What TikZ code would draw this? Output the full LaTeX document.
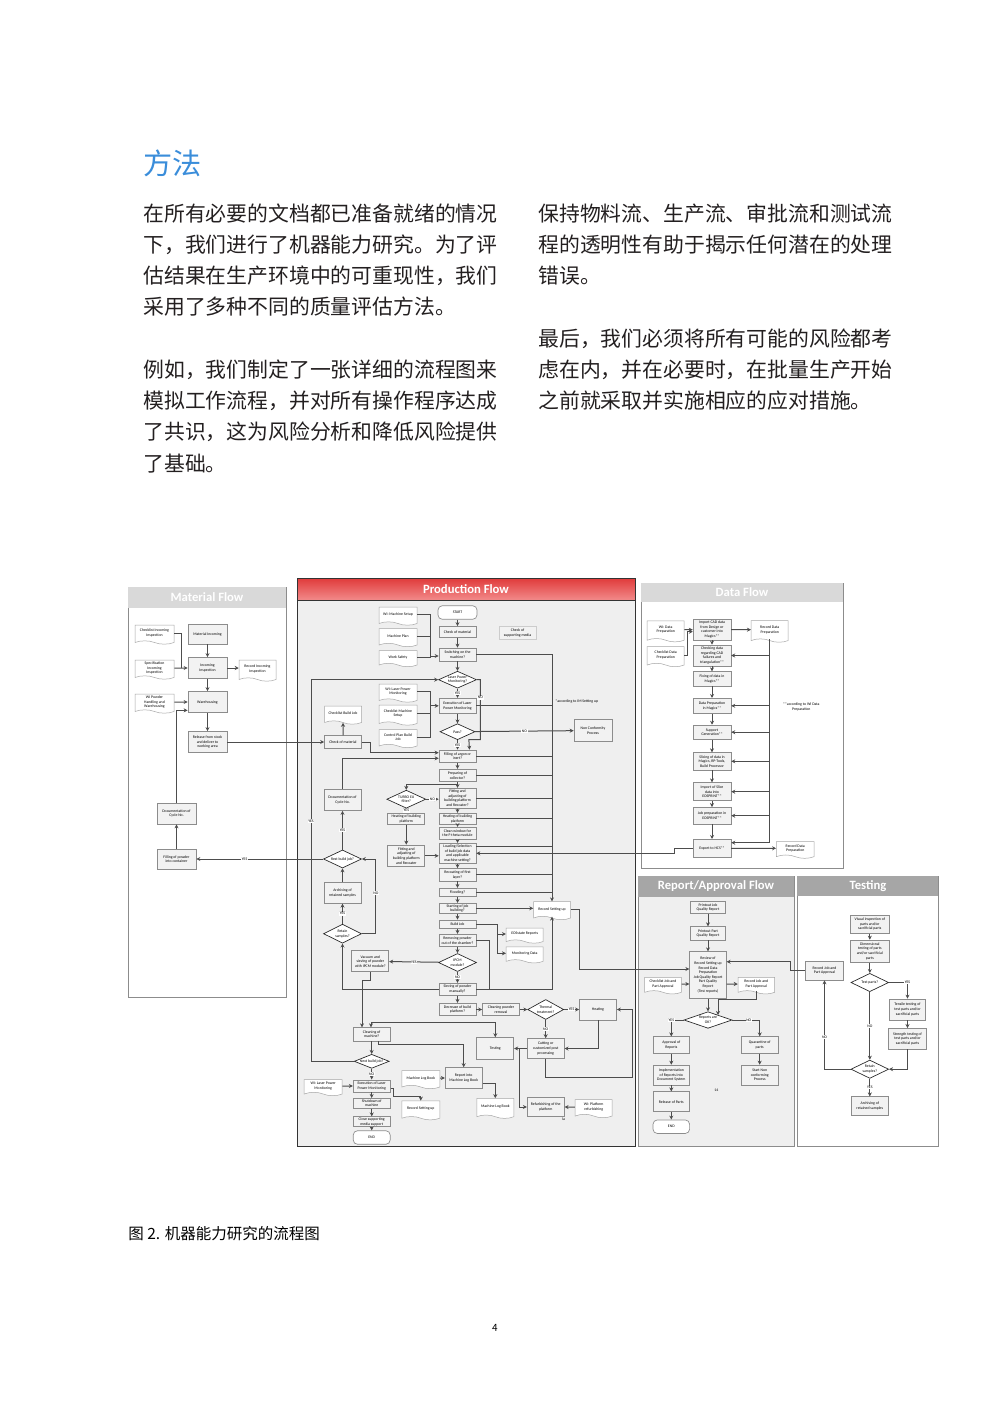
\documentclass[tikz,border=0pt]{standalone}
\usepackage{fontspec}
\setmainfont{Carlito}
\newfontfamily\cjk{Noto Sans CJK SC}
\usetikzlibrary{arrows.meta, calc, shapes.geometric, shapes.symbols}

\definecolor{boxline}{HTML}{8C8C8C}
\definecolor{boxfill}{HTML}{F2F2F2}
\definecolor{docline}{HTML}{A6A6A6}
\definecolor{flowline}{HTML}{4D4D4D}
\definecolor{prodbg}{HTML}{EFEFEF}
\definecolor{hdlight}{HTML}{D9D9D9}
\definecolor{hddark}{HTML}{A6A6A6}
\definecolor{redtop}{HTML}{E03A3A}
\definecolor{redbot}{HTML}{F28A8A}
\definecolor{titleblue}{HTML}{3A8DDA}
\definecolor{bodytext}{HTML}{231F20}

\newcommand\boxfont{\fontsize{2.3}{2.75}\selectfont}
\newcommand\headfont{\fontsize{7.6}{8}\selectfont\bfseries}

\begin{document}
\begin{tikzpicture}[x=0.6pt, y=-0.6pt, >={Stealth[length=2.4pt, width=2.4pt]},
  sz/.style 2 args={minimum width=#1*0.6pt, minimum height=#2*0.6pt},
  proc/.style={rectangle, draw=boxline, fill=boxfill, line width=0.4pt,
               inner sep=0.3pt, align=center, font=\boxfont, sz={37}{13}},
  doc/.style={tape, tape bend top=none, tape bend bottom=out and in,
              tape bend height=2pt, draw=docline, fill=white, line width=0.3pt,
              inner sep=0.3pt, align=center, font=\boxfont, sz={38}{18}},
  dec/.style n args={3}{diamond, draw=black!85, fill=white, line width=0.4pt,
              inner sep=0pt, sz={#1}{#2},
              label={[font=\boxfont, align=center, inner sep=0pt]center:#3}},
  term/.style={rectangle, rounded corners=2.6pt, draw=boxline, fill=white,
               line width=0.4pt, align=center, font=\boxfont, sz={37}{9}},
  flow/.style={draw=flowline, line width=0.6pt},
  lbl/.style={fill=white, inner sep=0.4pt, font=\boxfont},
  panel/.style={draw=boxline, line width=0.5pt, fill=white},
  hd/.style={text=white, font=\headfont},
  body/.style={anchor=west, inner sep=0pt, text=bodytext,
               font=\cjk\fontsize{12.5}{15}\selectfont}]

\useasboundingbox (0,0) rectangle (993,1404);

% Text above the chart
\node[anchor=west, inner sep=0pt, text=titleblue,
      font=\cjk\fontsize{17.5}{20}\selectfont] (title) at (143,163) {方法};
\foreach \y/\t in {214/在所有必要的文档都已准备就绪的情况, 245/下，我们进行了机器能力研究。为了评,
                   276/估结果在生产环境中的可重现性，我们, 307/采用了多种不同的质量评估方法。,
                   370/例如，我们制定了一张详细的流程图来, 401/模拟工作流程，并对所有操作程序达成,
                   432/了共识，这为风险分析和降低风险提供, 464/了基础。}
  \node[body] (la\y) at (143,\y) {\t};
\foreach \y/\t in {214/保持物料流、生产流、审批流和测试流, 245/程的透明性有助于揭示任何潜在的处理,
                   276/错误。, 339/最后，我们必须将所有可能的风险都考,
                   370/虑在内，并在必要时，在批量生产开始, 401/之前就采取并实施相应的应对措施。}
  \node[body] (ra\y) at (538,\y) {\t};

% Panels and headers
\draw[panel] (128,587) rectangle (286,997);
\fill[hdlight] (128,587) rectangle (286,608);
\node[hd] (mhead) at (207,597.5) {Material Flow};

\draw[panel, fill=prodbg, draw=black!80] (297,578) rectangle (635,1146);
\shade[top color=redtop, bottom color=redbot] (297,578) rectangle (635,600);
\draw[black!80, line width=0.5pt] (297,578) rectangle (635,600);
\node[hd] (phead) at (466,589) {Production Flow};

\draw[panel] (641,583) rectangle (843,868);
\fill[hdlight] (641,583) rectangle (843,602);
\node[hd] (dhead) at (742,592.5) {Data Flow};

\draw[panel, fill=prodbg] (638,876) rectangle (794,1146);
\fill[hddark] (638,876) rectangle (794,897);
\node[hd] (rhead) at (716,886.5) {Report/Approval Flow};

\draw[panel] (797,876) rectangle (938,1146);
\fill[hddark] (797,876) rectangle (938,896);
\node[hd] (thead) at (868,886) {Testing};

% Material Flow
\node[doc, sz={39}{19}] (mchk) at (154.5,633) {Checklist Incoming\\Inspection};
\node[proc, sz={39}{20}] (minc) at (207.5,634) {Material Incoming};
\node[doc, sz={39}{19}] (mspec) at (154.5,668) {Specification\\Incoming\\Inspection};
\node[proc, sz={39}{21}] (minsp) at (207.5,668) {Incoming\\Inspection};
\node[doc, sz={37}{21}] (mrec) at (257.5,669) {Record Incoming\\Inspection};
\node[doc, sz={39}{19}] (mwi) at (154.5,702) {WI Powder\\Handling and\\Warehousing};
\node[proc, sz={39}{21}] (mware) at (207.5,702) {Warehousing};
\node[proc, sz={39}{21}] (mrel) at (207.5,742) {Release from stock\\and deliver to\\working area};
\node[proc, sz={39}{21}] (mcyc) at (176.5,813.5) {Documentation of\\Cycle No.};
\node[proc, sz={39}{20}] (mfill) at (176.5,859) {Filling of powder\\into container};

% Production Flow
\node[doc] (pwims) at (398,614.5) {WI: Machine Setup};
\node[doc] (pplan) at (398,636) {Machine Plan};
\node[doc, sz={38}{16}] (psafe) at (398,657) {Work Safety};
\node[term, sz={39}{12}] (pstart) at (457.5,612.5) {START};
\node[proc, sz={37}{11}] (pchkm) at (457.5,632) {Check of material};
\node[proc, draw=gray!40] (psupp) at (517.5,633) {Check of\\supporting media};
\node[proc] (pswitch) at (457.5,654.5) {Switching on the\\machine?};
\node[dec={38}{17}{Laser Power\\Monitoring?}] (plpm) at (457.5,679.7) {};
\node[doc] (pwilp) at (398,691.5) {WI: Laser Power\\Monitoring};
\node[proc, sz={37}{15}] (pexec) at (457.5,705.8) {Execution of Laser\\Power Monitoring};
\node[doc, sz={38}{20}] (pchkms) at (398,713.5) {Checklist Machine\\Setup};
\node[doc] (pctrl) at (398,737) {Control Plan Build\\Job};
\node[doc, sz={37}{18}] (pchkbj) at (343,713.5) {Checklist Build Job};
\node[proc, sz={37}{12.5}] (pchk) at (343,742) {Check of material};
\node[dec={35}{16}{Pass?}] (ppass) at (457.5,731.7) {};
\node[proc, sz={38}{22}] (pnc) at (593,730.5) {Non Conformity\\Process};
\node[anchor=west, font=\boxfont, inner sep=0pt] (pnote) at (555,701) {*according to IM Setting up};
\node[proc, sz={37}{12.5}] (pinert) at (457.5,756.3) {Filling of argon or\\inert?};
\node[proc, sz={37}{12.5}] (pcoll) at (457.5,775.5) {Preparing of\\collector?};
\node[proc, sz={37}{21}] (pdocc) at (342.5,800) {Documentation of\\Cycle No.};
\node[dec={39}{18}{TURBO EU\\filter?}] (pturbo) at (406.3,799.2) {};
\node[proc, sz={37}{20}] (pfit) at (457.5,798.3) {Fitting and\\adjusting of\\building platform\\and Recoater?};
\node[proc, sz={37}{11}] (pheat) at (457.5,818.7) {Heating of building\\platform};
\node[proc, sz={37}{11}] (pheatl) at (406.3,818.7) {Heating of building\\platform};
\node[proc, sz={37}{12}] (pclean) at (457.5,833.3) {Clean window for\\the F-theta module};
\node[proc, sz={37}{21.7}] (pfitl) at (406.3,855.8) {Fitting and\\adjusting of\\building platform\\and Recoater};
\node[proc, sz={37}{20}] (pload) at (457.5,853.3) {Loading/Selection\\of build job data\\and applicable\\machine setting?};
\node[dec={38}{18}{Rest build job?}] (prest) at (342.5,859) {};
\node[proc, sz={37}{12.5}] (precoat) at (457.5,874.7) {Recoating of first\\layer?};
\node[proc, sz={37}{21}] (parch) at (342.5,892.8) {Archiving of\\retained samples};
\node[proc, sz={37}{8.5}] (pflood) at (457.5,892.5) {Flooding?};
\node[proc, sz={37}{10}] (pstartj) at (457.5,908.3) {Starting of job\\building?};
\node[doc, sz={37}{18}] (precset) at (552,909) {Record Setting up};
\node[proc, sz={37}{8.5}] (pbuild) at (457.5,924.2) {Build Job};
\node[dec={38}{19}{Retain\\samples?}] (pretain) at (342.5,933.7) {};
\node[doc, sz={37}{15}] (peos) at (524.7,934) {EOSstate Reports};
\node[proc, sz={37}{12.5}] (premove) at (457.5,940.5) {Removing powder\\out of the chamber?};
\node[doc, sz={37}{16}] (pmon) at (524.7,953.3) {Monitoring Data};
\node[proc, sz={37}{21}] (pvac) at (370.3,961.3) {Vacuum and\\sieving of powder\\with IPCM module?};
\node[dec={38}{18}{IPCM\\module?}] (pipcm) at (457.5,962.5) {};
\node[proc, sz={37}{12}] (psieve) at (457.5,989.2) {Sieving of powder\\manually?};
\node[proc, sz={37}{12.5}] (pdecr) at (457.5,1009.5) {Decrease of build\\platform?};
\node[proc, sz={37}{12.5}] (pclrm) at (501,1009.5) {Cleaning powder\\removal};
\node[dec={36}{20}{Thermal\\treatment?}] (ptherm) at (545.7,1009.5) {};
\node[proc, sz={37}{21}] (pheating) at (598,1009.5) {Heating};
\node[proc, sz={37}{13.3}] (pcleanm) at (371.7,1034.3) {Cleaning of\\machine?};
\node[proc, sz={37}{22}] (ptest) at (495.3,1048.5) {Testing};
\node[proc, sz={37}{20}] (pcut) at (545.7,1048.5) {Cutting or\\customized post\\processing};
\node[dec={35}{14}{Next build job?}] (pnext) at (371.7,1061.3) {};
\node[doc] (plogl) at (420.8,1078) {Machine Log Book};
\node[proc, sz={37}{21}] (preport) at (463.7,1078) {Report into\\Machine Log Book};
\node[doc, sz={38}{16}] (pwilpb) at (323.2,1086) {WI: Laser Power\\Monitoring};
\node[proc, sz={37}{12.3}] (pexecb) at (371.7,1086) {Execution of Laser\\Power Monitoring};
\node[proc, sz={37}{10}] (pshut) at (371.7,1103.3) {Shutdown of\\machine};
\node[doc, sz={38}{19}] (precsb) at (420.8,1108.7) {Record Setting up};
\node[doc, sz={37}{20}] (plogr) at (495.3,1106.7) {Machine Log Book};
\node[proc, sz={37}{19}] (prefurb) at (545.7,1107) {Refurbishing of the\\platform};
\node[doc, sz={37}{18}] (pwiplat) at (593.7,1107) {WI: Platform\\refurbishing};
\node[font=\boxfont, inner sep=0pt] (pla) at (563.7,1119) {la};
\node[proc, sz={37}{10}] (pclose) at (371.7,1121.7) {Close supporting\\media support};
\node[term, sz={37}{8.5}] (pend) at (371.7,1137.5) {END};

% Data Flow
\node[doc, sz={37}{21}] (dwi) at (665.7,629.7) {WI: Data\\Preparation};
\node[doc, sz={37}{20}] (dchkl) at (665.7,655) {Checklist Data\\Preparation};
\node[proc, sz={37.7}{20.7}] (dimport) at (712,629.7) {Import CAD data\\from Design or\\customer into\\Magics**};
\node[doc, sz={37}{21.7}] (drec) at (769.7,629.7) {Record Data\\Preparation};
\node[proc, sz={37.7}{21}] (dcheck) at (712,655.5) {Checking data\\regarding CAD\\failures and\\triangulation**};
\node[proc, sz={37.7}{14.3}] (dfix) at (712,678.8) {Fixing of data in\\Magics**};
\node[proc, sz={37.7}{15}] (dprep) at (712,705.8) {Data Preparation\\in Magics**};
\node[proc, sz={37.7}{14.3}] (dsupp) at (712,732.2) {Support\\Generation**};
\node[proc, sz={37.7}{17.3}] (dslice) at (712,761.3) {Slicing of data in\\Magics, RP-Tools,\\Build Processor};
\node[proc, sz={37.7}{18}] (dimps) at (712,791.7) {Import of Slice\\data into\\EOSPRINT**};
\node[proc, sz={37.7}{16.7}] (djob) at (712,815.7) {Job preparation in\\EOSPRINT**};
\node[proc, sz={37.7}{18}] (dexport) at (712,848.3) {Export to HCS**};
\node[doc, sz={37.7}{16.7}] (drecb) at (795.2,848.3) {Record Data\\Preparation};
\node[font=\boxfont, align=center, inner sep=0pt] (dnote) at (801.3,707) {**according to WI Data\\Preparation};

% Report/Approval Flow
\node[proc, sz={35.6}{11.6}] (rjob) at (708,907.5) {Printout Job\\Quality Report};
\node[proc, sz={35.6}{13.3}] (rpart) at (708,933.3) {Printout Part\\Quality Report};
\node[proc, sz={36.6}{46.6}] (rreview) at (708,975) {Review of\\Record Setting up\\Record Data\\Preparation\\Job Quality Report\\Part Quality\\Report\\(Test reports)};
\node[doc, sz={36.6}{16.6}] (rchk) at (663,984) {Checklist Job and\\Part Approval};
\node[doc, sz={36.6}{16.6}] (rrec) at (756.3,984) {Record Job and\\Part Approval};
\node[dec={48}{16.6}{Reports are\\OK?}] (rok) at (708,1020) {};
\node[proc, sz={36.6}{16.6}] (rappr) at (671.3,1045) {Approval of\\Reports};
\node[proc, sz={36.6}{16.6}] (rquar) at (759.7,1045) {Quarantine of\\parts};
\node[proc, sz={36.6}{20}] (rimpl) at (671.3,1075) {Implementation\\of Reports into\\Document System};
\node[proc, sz={36.6}{20}] (rstart) at (759.7,1075) {Start Non\\conforming\\Process};
\node[proc, sz={36.6}{20}] (rrel) at (671.3,1101.7) {Release of Parts};
\node[term, sz={36.6}{13.3}] (rend) at (671.3,1126.7) {END};
\node[font=\boxfont, inner sep=0pt] (r14) at (716.3,1090) {14};

% Testing
\node[proc, sz={38.3}{18.3}] (tvis) at (869.8,924.2) {Visual inspection of\\parts and/or\\sacrificial parts};
\node[proc, sz={38.3}{22.3}] (tdim) at (869.8,951.2) {Dimensional\\testing of parts\\and/or sacrificial\\parts};
\node[dec={37.7}{18.3}{Test parts?}] (tdec) at (869.8,982.5) {};
\node[proc, sz={36.6}{21}] (ttens) at (907.5,1009.5) {Tensile testing of\\test parts and/or\\sacrificial parts};
\node[proc, sz={38.3}{20.7}] (tstr) at (907.5,1038.7) {Strength testing of\\test parts and/or\\sacrificial parts};
\node[dec={37.7}{18.3}{Retain\\samples?}] (tret) at (869.8,1069.2) {};
\node[proc, sz={37.7}{19}] (tarch) at (869.8,1106.2) {Archiving of\\retained samples};
\node[proc, sz={38.3}{19}] (trec) at (824.5,970.5) {Record Job and\\Part Approval};

% Straight connectors
\foreach \a/\b in {minc/minsp, minsp/mware, mware/mrel, mfill/mcyc, mspec/minsp, mwi/mware, mrel/pchk,
                   pstart/pchkm, pchkm/pswitch, pswitch/plpm, pexec/ppass, pinert/pcoll, pcoll/pfit,
                   pfit/pheat, pheat/pclean, pclean/pload, pload/precoat, precoat/pflood, pflood/pstartj,
                   pstartj/pbuild, pbuild/premove, premove/pipcm, psieve/pdecr, pdecr/pclrm, pclrm/ptherm,
                   pcleanm/pnext, pexecb/pshut, pshut/pclose, pclose/pend, parch/prest, pheatl/pfitl,
                   pchk/pchkbj, pcut/ptest, pwiplat/prefurb, plogl/preport, pwilpb/pexecb,
                   dwi/dimport, dimport/drec, dimport/dcheck, dcheck/dfix, dfix/dprep, dprep/dsupp,
                   dsupp/dslice, dslice/dimps, dimps/djob, djob/dexport, dexport/drecb,
                   rjob/rpart, rpart/rreview, rreview/rok, rappr/rimpl, rimpl/rrel, rrel/rend,
                   rquar/rstart, tvis/tdim, tdim/tdec, ttens/tstr}
  \draw[flow, ->] (\a) -- (\b);

% Material Flow links
\draw[flow] (mchk.east) -| (181.3,668);
\draw[flow, ->] (minsp) -- (minsp -| mrec.west);
\draw[flow, ->] (mcyc.north) |- ($(mware.south west)+(0,-2.5)$);
\draw[flow, ->] (prest) -- node[lbl, pos=0.62]{YES} (mfill);

% Production Flow links
\coordinate (busa) at (430.3,656);
\coordinate (busb) at (430.3,705.8);
\foreach \n in {pwims, pplan, psafe} \draw[flow] (\n.east) -| (busa);
\draw[flow, ->] (busa) -- (busa -| pswitch.west);
\foreach \n in {pwilp, pchkms, pctrl} \draw[flow] (\n.east) -| (busb);
\draw[flow, ->] (busb) -- (busb -| pexec.west);
\draw[flow, ->] (pswitch) -| (precset);
\foreach \n in {pexec, pinert, pcoll, pfit, pheat, precoat, pflood}
  \draw[flow] (\n) -- (\n -| precset);
\coordinate (ploadhi) at ($(pload.north east)+(0,3.4)$);
\draw[flow] (ploadhi) -- (ploadhi -| precset);
\draw[flow, ->] (plpm) -- node[lbl]{YES} (pexec);
\draw[flow, ->] (plpm.east) -- ++(3.5,0) -- node[lbl, pos=0.3]{NO} ++(0,59.8) -- ++(-11.5,0) -- ($(pinert.north)+(12,0)$);
\draw[flow, ->] (pnext.west) -- (311,1061.3) -- node[lbl, pos=0.63]{YES} (311,679.7) -- (plpm.west);
\draw[flow, ->] (ppass) -- node[lbl]{NO} (pnc);
\draw[flow, ->] (ppass) -- node[lbl]{YES} (pinert);
\draw[flow, ->] (pchk.east) -- ++(8.7,0) |- ($(pinert.west)+(0,-3.6)$);
\draw[flow, ->] (pdocc.north) |- ($(pinert.west)+(0,2)$);
\draw[flow, ->] (prest) -- node[lbl]{YES} (pdocc);
\draw[flow, ->] ($(pcoll.south)+(0,2.5)$) -| (pturbo.north);
\draw[flow, ->] (pturbo) -- node[lbl]{NO} (pturbo -| pfit.west);
\draw[flow, ->] (pturbo) -- node[lbl]{YES} (pheatl);
\draw[flow, ->] (pfitl) -- (pfitl -| pload.west);
\draw[flow, ->] (pstartj) -- (pstartj -| precset.west);
\coordinate (pbj) at (497,924.2);
\draw[flow] (pbuild) -- (pbj);
\draw[flow, ->] (pbj) |- (peos);
\draw[flow, ->] (pbj) |- (pmon);
\draw[flow] (premove) -| ($(psieve.east)+(12.7,0)$) -- (psieve.east);
\draw[flow, ->] (psieve.west) -| (pretain.south);
\draw[flow, ->] (psieve.east) -| (precset.south);
\draw[flow, ->] (pretain) -- node[lbl]{YES} (parch);
\draw[flow, ->] (pretain.east) -- ++(14,0) |- node[lbl, pos=0.27]{NO} (prest.east);
\draw[flow, ->] (pipcm) -- node[lbl]{YES} (pvac);
\draw[flow, ->] (pipcm) -- node[lbl]{NO} (psieve);
\draw[flow, ->] (pvac.south) -- ++(0,8.7) -| ($(pcleanm.north)+(-9.7,0)$);
\draw[flow, ->] (ptherm) -- node[lbl]{YES} (pheating);
\draw[flow, ->] (ptherm) -- node[lbl]{NO} (pcut);
\draw[flow, ->] (pheating.south) |- (pcut.east);
\draw[flow, ->] (pcut.south) -- ++(0,18.4) -| ($(pheating.east)+(15.7,0)$) -- (pheating.east);
\draw[flow, ->] ($(ptest.east)+(5,0)$) |- (prefurb.west);
\draw[flow, <->] (ptest.north) -- ++(0,-14.5) -| ($(pcleanm.north)+(-0.7,0)$);
\draw[flow, ->] ($(pcleanm.south)+(7,0)$) -- ++(0,3.3) -| (preport.north);
\draw[flow, ->] ($(preport.east)+(0,5)$) -| (plogr.north);
\draw[flow, ->] (pnext) -- node[lbl]{NO} (pexecb);
\draw[flow, ->] ($(pexecb.east)+(0,2)$) -- ++(3.4,0) |- ($(precsb.north)+(0,-4)$) -- (precsb.north);
\draw[flow, ->] (dexport.west) -- ++(-18.3,0) -- ++(0,5) -- (pload.east);
\draw[flow, ->] (precset.east) -- ++(8.7,0) |- ($(rreview.west)+(0,-6)$);

% Data Flow links
\draw[flow, ->] (dchkl.east) -- ++(3.3,0) |- ($(dimport.west)+(0,2)$);
\draw[flow, ->] (drec.south) |- ($(dexport.east)+(0,-5.6)$);
\foreach \n in {dcheck, dprep, dsupp, dslice, dimps, djob}
  \draw[flow, ->] (\n -| drec.south) -- (\n.east);

% Report/Approval links
\draw[flow, ->] (rchk) -- (rchk -| rreview.west);
\draw[flow, ->] (rrec -| rreview.east) -- (rrec);
\draw[flow, ->] (rrec.south) -- ++(0,8.4) -| (718,1015);
\draw[flow, ->] (rok.west) -| node[lbl, pos=0.5]{YES} (rappr.north);
\draw[flow, ->] (rok.east) -| node[lbl, pos=0.3]{NO} (rquar.north);

% Testing links
\draw[flow, ->] (tdec.east) -| node[lbl, pos=0.5]{YES} (ttens.north);
\draw[flow, ->] (tdec) -- node[lbl]{NO} (tret);
\draw[flow, ->] (tstr.south) |- (tret.east);
\draw[flow, ->] (tret.west) -| node[lbl, pos=0.68]{NO} (trec.south);
\draw[flow, ->] (tret) -- node[lbl]{YES} (tarch);
\draw[flow, ->] (trec.west) -- ++(-14.6,0) |- ($(rreview.east)+(0,-13.3)$);

% Caption and page number
\node[anchor=west, inner sep=0pt, font=\cjk\fontsize{9.3}{11}\selectfont] (caption) at (128,1234) {图 2. 机器能力研究的流程图};
\node[inner sep=0pt, font=\cjk\fontsize{6}{7}\selectfont] (pagenum) at (495,1328) {4};
\end{tikzpicture}
\end{document}
